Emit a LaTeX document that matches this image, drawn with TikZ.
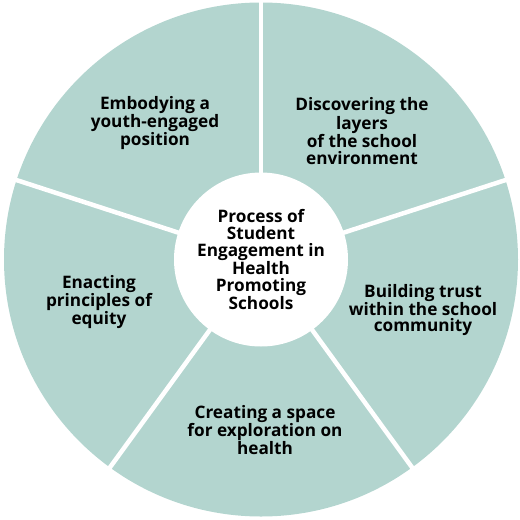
\documentclass[tikz,border=0pt]{standalone}
\usepackage{fontspec}
\setmainfont{Open Sans}
\definecolor{segteal}{HTML}{B3D5CF}
\begin{document}
\begin{tikzpicture}[x=1pt,y=1pt,
  lbl/.style={align=center,font=\bfseries\fontsize{17.2}{16.7}\selectfont,text=black,inner sep=0pt},
  gap/.style={white,line width=4.5pt}]
\useasboundingbox (0,0) rectangle (520,-520);
\coordinate (c) at (261,-259.5);
\fill[segteal] (c) circle (257);
\foreach \a in {90,18,-54,-126,162}
  \draw[gap] (c) -- ++(\a:262);
\node[circle,fill=white,minimum size=174pt,inner sep=0pt,lbl] (core) at (c)
  {Process of\\Student\\Engagement in\\Health\\Promoting\\Schools};
\node[lbl] (s1) at (155,-123) {Embodying a\\youth-engaged\\position};
\node[lbl] (s2) at (362,-131) {Discovering the\\layers\\of the school\\environment};
\node[lbl] (s3) at (423,-310) {Building trust\\within the school\\community};
\node[lbl] (s4) at (265,-430) {Creating a space\\for exploration on\\health};
\node[lbl] (s5) at (99,-302) {Enacting\\principles of\\equity};
\end{tikzpicture}
\end{document}
